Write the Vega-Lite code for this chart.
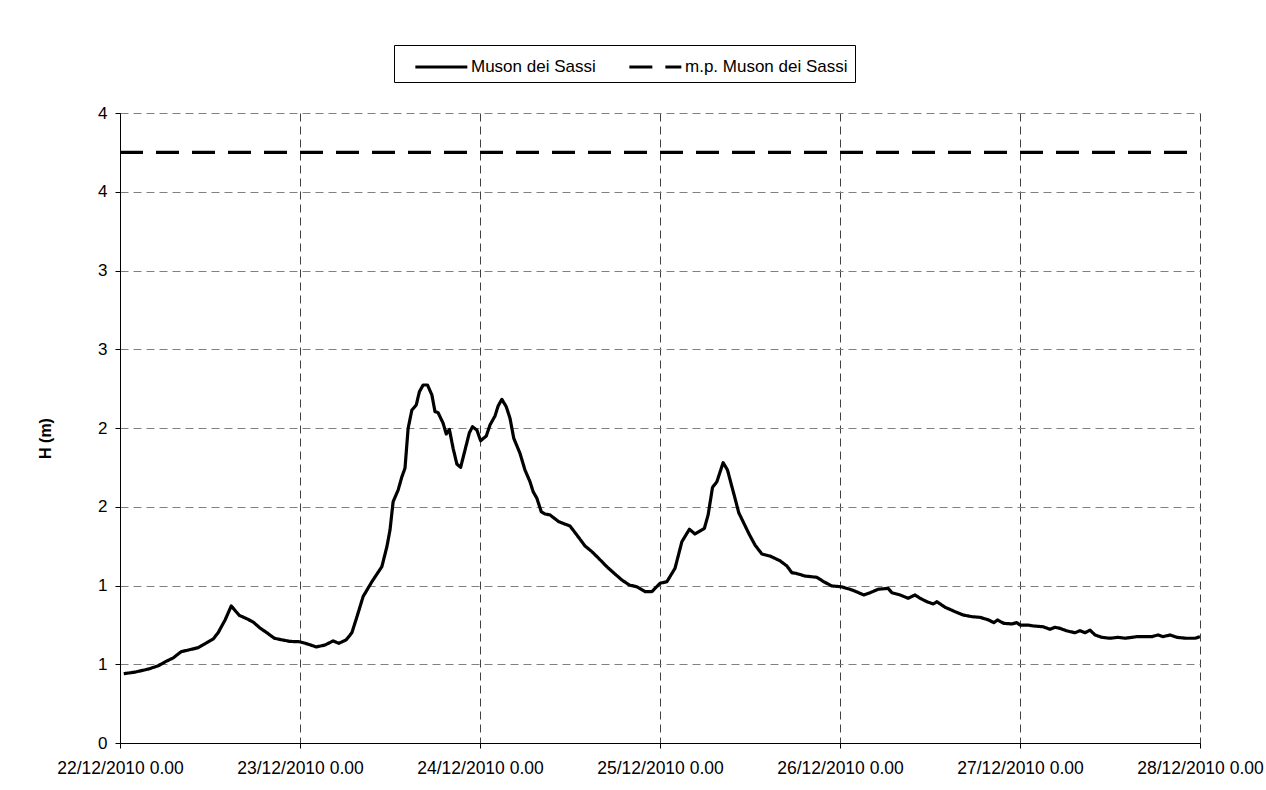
{
  "$schema": "https://vega.github.io/schema/vega-lite/v6.json",
  "autosize": {"type": "none"},
  "padding": {"left": 120, "top": 113, "right": 66, "bottom": 47},
  "width": 1080,
  "height": 630,
  "background": "white",
  "config": {
    "font": "Liberation Sans",
    "view": {"stroke": null},
    "axis": {"labelFont": "Liberation Sans", "titleFont": "Liberation Sans", "labelColor": "black", "titleColor": "black", "domainColor": "black", "tickColor": "black", "labelFontSize": 17}
  },
  "data": {
    "values": [
      {"t": "2010-12-22T00:30", "h": 0.44, "s": "Muson dei Sassi"},
      {"t": "2010-12-22T02:00", "h": 0.45, "s": "Muson dei Sassi"},
      {"t": "2010-12-22T03:50", "h": 0.47, "s": "Muson dei Sassi"},
      {"t": "2010-12-22T05:05", "h": 0.49, "s": "Muson dei Sassi"},
      {"t": "2010-12-22T06:00", "h": 0.515, "s": "Muson dei Sassi"},
      {"t": "2010-12-22T07:05", "h": 0.54, "s": "Muson dei Sassi"},
      {"t": "2010-12-22T08:10", "h": 0.58, "s": "Muson dei Sassi"},
      {"t": "2010-12-22T09:05", "h": 0.59, "s": "Muson dei Sassi"},
      {"t": "2010-12-22T10:25", "h": 0.605, "s": "Muson dei Sassi"},
      {"t": "2010-12-22T11:20", "h": 0.63, "s": "Muson dei Sassi"},
      {"t": "2010-12-22T12:25", "h": 0.66, "s": "Muson dei Sassi"},
      {"t": "2010-12-22T13:05", "h": 0.70, "s": "Muson dei Sassi"},
      {"t": "2010-12-22T14:00", "h": 0.78, "s": "Muson dei Sassi"},
      {"t": "2010-12-22T14:50", "h": 0.87, "s": "Muson dei Sassi"},
      {"t": "2010-12-22T15:55", "h": 0.81, "s": "Muson dei Sassi"},
      {"t": "2010-12-22T17:05", "h": 0.785, "s": "Muson dei Sassi"},
      {"t": "2010-12-22T17:50", "h": 0.765, "s": "Muson dei Sassi"},
      {"t": "2010-12-22T18:40", "h": 0.73, "s": "Muson dei Sassi"},
      {"t": "2010-12-22T19:35", "h": 0.70, "s": "Muson dei Sassi"},
      {"t": "2010-12-22T20:35", "h": 0.665, "s": "Muson dei Sassi"},
      {"t": "2010-12-22T21:35", "h": 0.655, "s": "Muson dei Sassi"},
      {"t": "2010-12-22T22:40", "h": 0.645, "s": "Muson dei Sassi"},
      {"t": "2010-12-22T23:55", "h": 0.643, "s": "Muson dei Sassi"},
      {"t": "2010-12-23T00:55", "h": 0.63, "s": "Muson dei Sassi"},
      {"t": "2010-12-23T02:10", "h": 0.61, "s": "Muson dei Sassi"},
      {"t": "2010-12-23T03:20", "h": 0.622, "s": "Muson dei Sassi"},
      {"t": "2010-12-23T04:25", "h": 0.648, "s": "Muson dei Sassi"},
      {"t": "2010-12-23T05:10", "h": 0.633, "s": "Muson dei Sassi"},
      {"t": "2010-12-23T06:10", "h": 0.655, "s": "Muson dei Sassi"},
      {"t": "2010-12-23T06:55", "h": 0.70, "s": "Muson dei Sassi"},
      {"t": "2010-12-23T07:35", "h": 0.80, "s": "Muson dei Sassi"},
      {"t": "2010-12-23T08:25", "h": 0.93, "s": "Muson dei Sassi"},
      {"t": "2010-12-23T09:35", "h": 1.024, "s": "Muson dei Sassi"},
      {"t": "2010-12-23T10:55", "h": 1.12, "s": "Muson dei Sassi"},
      {"t": "2010-12-23T11:35", "h": 1.246, "s": "Muson dei Sassi"},
      {"t": "2010-12-23T12:00", "h": 1.352, "s": "Muson dei Sassi"},
      {"t": "2010-12-23T12:25", "h": 1.532, "s": "Muson dei Sassi"},
      {"t": "2010-12-23T13:05", "h": 1.606, "s": "Muson dei Sassi"},
      {"t": "2010-12-23T13:35", "h": 1.69, "s": "Muson dei Sassi"},
      {"t": "2010-12-23T14:00", "h": 1.745, "s": "Muson dei Sassi"},
      {"t": "2010-12-23T14:25", "h": 1.998, "s": "Muson dei Sassi"},
      {"t": "2010-12-23T14:55", "h": 2.114, "s": "Muson dei Sassi"},
      {"t": "2010-12-23T15:30", "h": 2.146, "s": "Muson dei Sassi"},
      {"t": "2010-12-23T15:55", "h": 2.23, "s": "Muson dei Sassi"},
      {"t": "2010-12-23T16:25", "h": 2.273, "s": "Muson dei Sassi"},
      {"t": "2010-12-23T17:00", "h": 2.273, "s": "Muson dei Sassi"},
      {"t": "2010-12-23T17:35", "h": 2.21, "s": "Muson dei Sassi"},
      {"t": "2010-12-23T18:00", "h": 2.104, "s": "Muson dei Sassi"},
      {"t": "2010-12-23T18:25", "h": 2.097, "s": "Muson dei Sassi"},
      {"t": "2010-12-23T19:05", "h": 2.03, "s": "Muson dei Sassi"},
      {"t": "2010-12-23T19:30", "h": 1.962, "s": "Muson dei Sassi"},
      {"t": "2010-12-23T19:55", "h": 1.991, "s": "Muson dei Sassi"},
      {"t": "2010-12-23T20:25", "h": 1.871, "s": "Muson dei Sassi"},
      {"t": "2010-12-23T20:55", "h": 1.771, "s": "Muson dei Sassi"},
      {"t": "2010-12-23T21:25", "h": 1.75, "s": "Muson dei Sassi"},
      {"t": "2010-12-23T22:00", "h": 1.86, "s": "Muson dei Sassi"},
      {"t": "2010-12-23T22:35", "h": 1.97, "s": "Muson dei Sassi"},
      {"t": "2010-12-23T23:00", "h": 2.008, "s": "Muson dei Sassi"},
      {"t": "2010-12-23T23:35", "h": 1.987, "s": "Muson dei Sassi"},
      {"t": "2010-12-24T00:05", "h": 1.919, "s": "Muson dei Sassi"},
      {"t": "2010-12-24T00:50", "h": 1.949, "s": "Muson dei Sassi"},
      {"t": "2010-12-24T01:20", "h": 2.019, "s": "Muson dei Sassi"},
      {"t": "2010-12-24T02:00", "h": 2.076, "s": "Muson dei Sassi"},
      {"t": "2010-12-24T02:25", "h": 2.14, "s": "Muson dei Sassi"},
      {"t": "2010-12-24T02:55", "h": 2.182, "s": "Muson dei Sassi"},
      {"t": "2010-12-24T03:30", "h": 2.135, "s": "Muson dei Sassi"},
      {"t": "2010-12-24T04:00", "h": 2.062, "s": "Muson dei Sassi"},
      {"t": "2010-12-24T04:30", "h": 1.935, "s": "Muson dei Sassi"},
      {"t": "2010-12-24T05:20", "h": 1.839, "s": "Muson dei Sassi"},
      {"t": "2010-12-24T06:00", "h": 1.733, "s": "Muson dei Sassi"},
      {"t": "2010-12-24T06:40", "h": 1.659, "s": "Muson dei Sassi"},
      {"t": "2010-12-24T07:05", "h": 1.596, "s": "Muson dei Sassi"},
      {"t": "2010-12-24T07:35", "h": 1.554, "s": "Muson dei Sassi"},
      {"t": "2010-12-24T08:10", "h": 1.469, "s": "Muson dei Sassi"},
      {"t": "2010-12-24T08:40", "h": 1.454, "s": "Muson dei Sassi"},
      {"t": "2010-12-24T09:20", "h": 1.448, "s": "Muson dei Sassi"},
      {"t": "2010-12-24T10:30", "h": 1.405, "s": "Muson dei Sassi"},
      {"t": "2010-12-24T12:00", "h": 1.378, "s": "Muson dei Sassi"},
      {"t": "2010-12-24T13:05", "h": 1.31, "s": "Muson dei Sassi"},
      {"t": "2010-12-24T14:00", "h": 1.251, "s": "Muson dei Sassi"},
      {"t": "2010-12-24T14:55", "h": 1.215, "s": "Muson dei Sassi"},
      {"t": "2010-12-24T15:50", "h": 1.172, "s": "Muson dei Sassi"},
      {"t": "2010-12-24T16:55", "h": 1.119, "s": "Muson dei Sassi"},
      {"t": "2010-12-24T18:00", "h": 1.073, "s": "Muson dei Sassi"},
      {"t": "2010-12-24T18:55", "h": 1.035, "s": "Muson dei Sassi"},
      {"t": "2010-12-24T19:55", "h": 1.003, "s": "Muson dei Sassi"},
      {"t": "2010-12-24T20:55", "h": 0.992, "s": "Muson dei Sassi"},
      {"t": "2010-12-24T22:00", "h": 0.961, "s": "Muson dei Sassi"},
      {"t": "2010-12-24T22:55", "h": 0.961, "s": "Muson dei Sassi"},
      {"t": "2010-12-25T00:00", "h": 1.014, "s": "Muson dei Sassi"},
      {"t": "2010-12-25T00:55", "h": 1.024, "s": "Muson dei Sassi"},
      {"t": "2010-12-25T02:00", "h": 1.109, "s": "Muson dei Sassi"},
      {"t": "2010-12-25T02:55", "h": 1.278, "s": "Muson dei Sassi"},
      {"t": "2010-12-25T03:55", "h": 1.357, "s": "Muson dei Sassi"},
      {"t": "2010-12-25T04:40", "h": 1.327, "s": "Muson dei Sassi"},
      {"t": "2010-12-25T05:55", "h": 1.363, "s": "Muson dei Sassi"},
      {"t": "2010-12-25T06:25", "h": 1.448, "s": "Muson dei Sassi"},
      {"t": "2010-12-25T07:00", "h": 1.623, "s": "Muson dei Sassi"},
      {"t": "2010-12-25T07:35", "h": 1.659, "s": "Muson dei Sassi"},
      {"t": "2010-12-25T08:25", "h": 1.78, "s": "Muson dei Sassi"},
      {"t": "2010-12-25T09:00", "h": 1.733, "s": "Muson dei Sassi"},
      {"t": "2010-12-25T09:35", "h": 1.628, "s": "Muson dei Sassi"},
      {"t": "2010-12-25T10:00", "h": 1.554, "s": "Muson dei Sassi"},
      {"t": "2010-12-25T10:30", "h": 1.462, "s": "Muson dei Sassi"},
      {"t": "2010-12-25T11:50", "h": 1.331, "s": "Muson dei Sassi"},
      {"t": "2010-12-25T12:40", "h": 1.257, "s": "Muson dei Sassi"},
      {"t": "2010-12-25T13:35", "h": 1.2, "s": "Muson dei Sassi"},
      {"t": "2010-12-25T14:40", "h": 1.187, "s": "Muson dei Sassi"},
      {"t": "2010-12-25T16:00", "h": 1.157, "s": "Muson dei Sassi"},
      {"t": "2010-12-25T16:55", "h": 1.124, "s": "Muson dei Sassi"},
      {"t": "2010-12-25T17:35", "h": 1.081, "s": "Muson dei Sassi"},
      {"t": "2010-12-25T18:10", "h": 1.077, "s": "Muson dei Sassi"},
      {"t": "2010-12-25T19:20", "h": 1.06, "s": "Muson dei Sassi"},
      {"t": "2010-12-25T20:55", "h": 1.052, "s": "Muson dei Sassi"},
      {"t": "2010-12-25T21:50", "h": 1.024, "s": "Muson dei Sassi"},
      {"t": "2010-12-25T22:55", "h": 0.997, "s": "Muson dei Sassi"},
      {"t": "2010-12-26T00:10", "h": 0.992, "s": "Muson dei Sassi"},
      {"t": "2010-12-26T01:20", "h": 0.976, "s": "Muson dei Sassi"},
      {"t": "2010-12-26T02:10", "h": 0.961, "s": "Muson dei Sassi"},
      {"t": "2010-12-26T03:10", "h": 0.94, "s": "Muson dei Sassi"},
      {"t": "2010-12-26T04:00", "h": 0.954, "s": "Muson dei Sassi"},
      {"t": "2010-12-26T05:05", "h": 0.976, "s": "Muson dei Sassi"},
      {"t": "2010-12-26T06:25", "h": 0.982, "s": "Muson dei Sassi"},
      {"t": "2010-12-26T06:55", "h": 0.954, "s": "Muson dei Sassi"},
      {"t": "2010-12-26T08:00", "h": 0.94, "s": "Muson dei Sassi"},
      {"t": "2010-12-26T09:05", "h": 0.919, "s": "Muson dei Sassi"},
      {"t": "2010-12-26T10:00", "h": 0.94, "s": "Muson dei Sassi"},
      {"t": "2010-12-26T10:40", "h": 0.919, "s": "Muson dei Sassi"},
      {"t": "2010-12-26T11:35", "h": 0.897, "s": "Muson dei Sassi"},
      {"t": "2010-12-26T12:25", "h": 0.883, "s": "Muson dei Sassi"},
      {"t": "2010-12-26T12:55", "h": 0.897, "s": "Muson dei Sassi"},
      {"t": "2010-12-26T14:00", "h": 0.862, "s": "Muson dei Sassi"},
      {"t": "2010-12-26T15:20", "h": 0.834, "s": "Muson dei Sassi"},
      {"t": "2010-12-26T16:25", "h": 0.813, "s": "Muson dei Sassi"},
      {"t": "2010-12-26T17:35", "h": 0.802, "s": "Muson dei Sassi"},
      {"t": "2010-12-26T18:40", "h": 0.798, "s": "Muson dei Sassi"},
      {"t": "2010-12-26T19:50", "h": 0.781, "s": "Muson dei Sassi"},
      {"t": "2010-12-26T20:30", "h": 0.764, "s": "Muson dei Sassi"},
      {"t": "2010-12-26T21:00", "h": 0.781, "s": "Muson dei Sassi"},
      {"t": "2010-12-26T21:50", "h": 0.76, "s": "Muson dei Sassi"},
      {"t": "2010-12-26T22:55", "h": 0.756, "s": "Muson dei Sassi"},
      {"t": "2010-12-26T23:35", "h": 0.764, "s": "Muson dei Sassi"},
      {"t": "2010-12-27T00:00", "h": 0.749, "s": "Muson dei Sassi"},
      {"t": "2010-12-27T01:00", "h": 0.749, "s": "Muson dei Sassi"},
      {"t": "2010-12-27T01:50", "h": 0.743, "s": "Muson dei Sassi"},
      {"t": "2010-12-27T03:05", "h": 0.738, "s": "Muson dei Sassi"},
      {"t": "2010-12-27T04:00", "h": 0.722, "s": "Muson dei Sassi"},
      {"t": "2010-12-27T04:40", "h": 0.735, "s": "Muson dei Sassi"},
      {"t": "2010-12-27T05:20", "h": 0.728, "s": "Muson dei Sassi"},
      {"t": "2010-12-27T06:10", "h": 0.713, "s": "Muson dei Sassi"},
      {"t": "2010-12-27T07:20", "h": 0.70, "s": "Muson dei Sassi"},
      {"t": "2010-12-27T08:00", "h": 0.713, "s": "Muson dei Sassi"},
      {"t": "2010-12-27T08:40", "h": 0.70, "s": "Muson dei Sassi"},
      {"t": "2010-12-27T09:20", "h": 0.717, "s": "Muson dei Sassi"},
      {"t": "2010-12-27T10:00", "h": 0.686, "s": "Muson dei Sassi"},
      {"t": "2010-12-27T10:55", "h": 0.671, "s": "Muson dei Sassi"},
      {"t": "2010-12-27T12:00", "h": 0.665, "s": "Muson dei Sassi"},
      {"t": "2010-12-27T13:05", "h": 0.671, "s": "Muson dei Sassi"},
      {"t": "2010-12-27T14:00", "h": 0.665, "s": "Muson dei Sassi"},
      {"t": "2010-12-27T15:35", "h": 0.675, "s": "Muson dei Sassi"},
      {"t": "2010-12-27T17:35", "h": 0.675, "s": "Muson dei Sassi"},
      {"t": "2010-12-27T18:25", "h": 0.686, "s": "Muson dei Sassi"},
      {"t": "2010-12-27T19:05", "h": 0.675, "s": "Muson dei Sassi"},
      {"t": "2010-12-27T20:00", "h": 0.686, "s": "Muson dei Sassi"},
      {"t": "2010-12-27T20:55", "h": 0.671, "s": "Muson dei Sassi"},
      {"t": "2010-12-27T22:10", "h": 0.665, "s": "Muson dei Sassi"},
      {"t": "2010-12-27T23:20", "h": 0.665, "s": "Muson dei Sassi"},
      {"t": "2010-12-28T00:00", "h": 0.675, "s": "Muson dei Sassi"},
      {"t": "2010-12-22T00:00", "h": 3.75, "s": "m.p. Muson dei Sassi"},
      {"t": "2010-12-28T00:00", "h": 3.75, "s": "m.p. Muson dei Sassi"}
    ]
  },
  "mark": {"type": "line", "color": "black", "strokeWidth": 3.2, "strokeJoin": "round", "clip": true},
  "encoding": {
    "x": {
      "field": "t",
      "type": "temporal",
      "scale": {"domain": [{"year": 2010, "month": 12, "date": 22}, {"year": 2010, "month": 12, "date": 28}]},
      "axis": {
        "title": null,
        "values": [
          {"year": 2010, "month": 12, "date": 22},
          {"year": 2010, "month": 12, "date": 23},
          {"year": 2010, "month": 12, "date": 24},
          {"year": 2010, "month": 12, "date": 25},
          {"year": 2010, "month": 12, "date": 26},
          {"year": 2010, "month": 12, "date": 27},
          {"year": 2010, "month": 12, "date": 28}
        ],
        "format": "%d/%m/%Y %-H.%M",
        "labelFontSize": 17.5,
        "labelFlush": false,
        "labelOverlap": false,
        "labelBound": false,
        "tickSize": 5,
        "labelPadding": 11,
        "grid": true,
        "gridColor": "#404040",
        "gridDash": [8, 5],
        "gridWidth": 1
      }
    },
    "y": {
      "field": "h",
      "type": "quantitative",
      "scale": {"domain": [0, 4], "nice": false, "zero": true},
      "axis": {
        "title": "H (m)",
        "titleFontSize": 16,
        "titleFontWeight": "bold",
        "titleX": -75,
        "titleY": 325,
        "titleBaseline": "middle",
        "titleAngle": -90,
        "values": [0, 0.5, 1, 1.5, 2, 2.5, 3, 3.5, 4],
        "labelExpr": "toString(ceil(datum.value))",
        "labelFontSize": 17,
        "tickSize": 5,
        "labelPadding": 8,
        "grid": true,
        "gridColor": "#808080",
        "gridDash": [8, 5],
        "gridWidth": 1
      }
    },
    "strokeDash": {
      "field": "s",
      "type": "nominal",
      "scale": {"domain": ["Muson dei Sassi", "m.p. Muson dei Sassi"], "range": [[1, 0], [23, 13]]},
      "legend": {
        "title": null,
        "orient": "none",
        "legendX": 274,
        "legendY": -68,
        "direction": "horizontal",
        "strokeColor": "black",
        "fillColor": "white",
        "padding": 7,
        "columnPadding": 19,
        "symbolType": "M-0.05,0H3.95",
        "symbolSize": 676,
        "symbolStrokeWidth": 3.2,
        "symbolStrokeColor": "black",
        "labelFontSize": 17,
        "labelFont": "Liberation Sans",
        "labelColor": "black",
        "labelOffset": 40,
        "labelLimit": 400,
        "labelExpr": "indexof(datum.value, 'm.p.') == 0 ? datum.value + '\u2007\u2007' : datum.value"
      }
    }
  }
}
